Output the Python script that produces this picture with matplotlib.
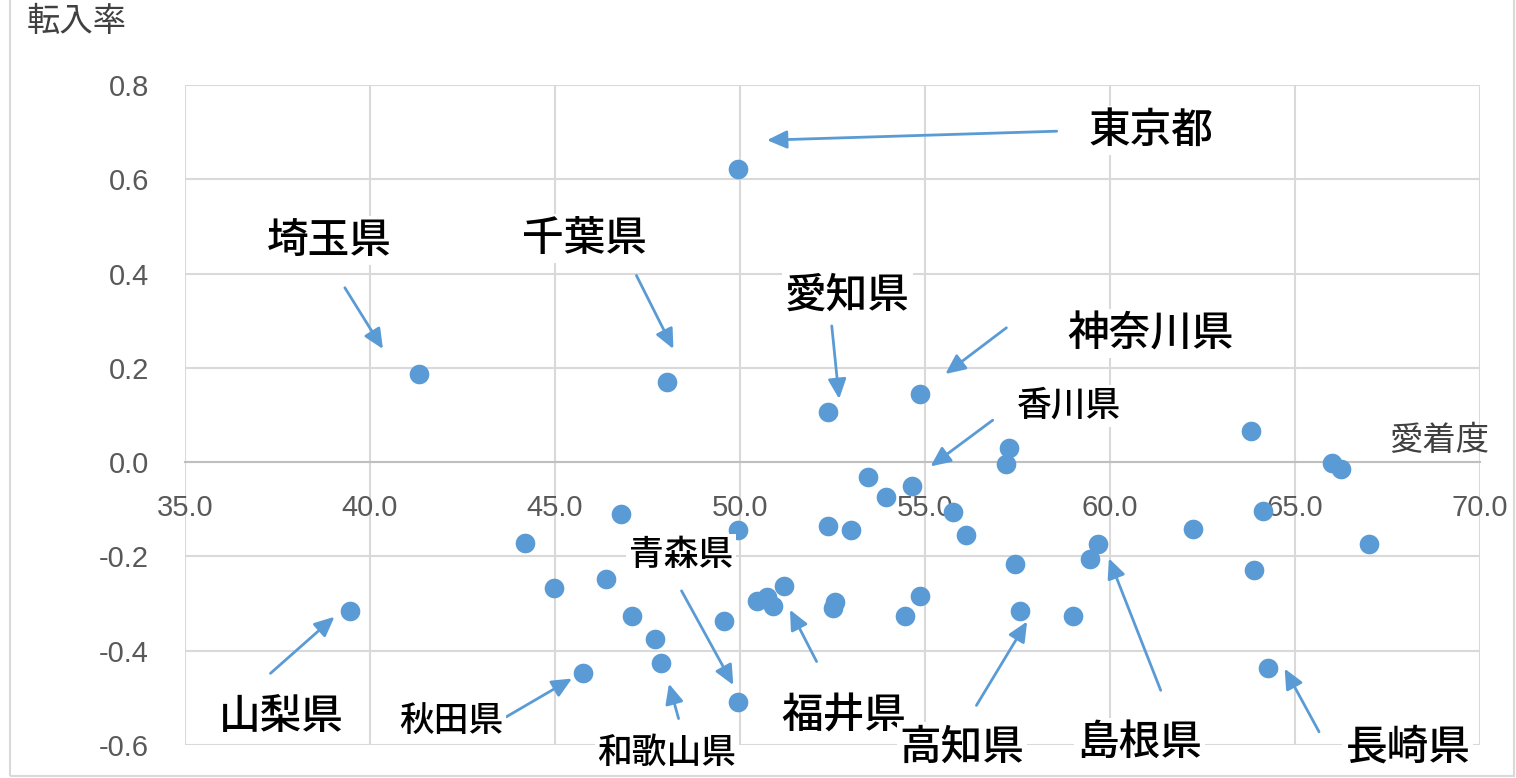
import matplotlib
matplotlib.use("Agg")
import matplotlib.pyplot as plt
from matplotlib.patches import Rectangle

plt.rcParams['font.family'] = ['Noto Sans CJK JP', 'DejaVu Sans']

# 愛着度 (x) and 転入率 (y) for each prefecture
attach = [49.94, 41.33, 48.04, 52.39, 54.86, 63.81, 57.28, 57.19, 65.99, 66.24,
          53.47, 53.94, 54.64, 55.75, 56.10, 52.39, 52.99, 59.68, 59.45, 57.43,
          52.57, 52.51, 54.86, 54.46, 57.57, 58.99, 64.13, 62.25, 67.01, 63.89,
          64.28, 44.19, 46.78, 49.95, 44.97, 46.38, 47.09, 47.70, 47.86, 45.77,
          49.58, 49.95, 50.46, 50.72, 51.19, 50.90, 39.46]
inflow = [0.621, 0.187, 0.170, 0.107, 0.145, 0.066, 0.029, -0.004, -0.001, -0.014,
          -0.032, -0.074, -0.050, -0.106, -0.154, -0.136, -0.143, -0.173, -0.205, -0.216,
          -0.296, -0.310, -0.283, -0.326, -0.315, -0.326, -0.104, -0.142, -0.174, -0.228,
          -0.436, -0.172, -0.111, -0.143, -0.266, -0.247, -0.327, -0.375, -0.426, -0.448,
          -0.338, -0.509, -0.294, -0.285, -0.262, -0.305, -0.316]

x_ticks = [35.0, 40.0, 45.0, 50.0, 55.0, 60.0, 65.0, 70.0]
y_ticks = [-0.6, -0.4, -0.2, 0.0, 0.2, 0.4, 0.6, 0.8]

# annotation labels: name, text position, arrow start, arrow end
big_labels = ['東京都', '埼玉県', '千葉県', '愛知県', '神奈川県', '福井県', '山梨県', '高知県', '島根県', '長崎県']
big_text_pos = [(61.1, 0.703), (38.9, 0.47), (45.8, 0.475), (52.9, 0.355), (61.1, 0.272),
                (52.8, -0.536), (37.6, -0.54), (56.0, -0.604), (60.8, -0.594), (68.05, -0.604)]
big_arrow_from = [(58.56, 0.702), (39.32, 0.370), (47.2, 0.396), (52.48, 0.289), (57.2, 0.285),
                  (52.07, -0.423), (37.31, -0.448), (56.39, -0.516), (61.37, -0.484), (65.65, -0.572)]
big_arrow_to = [(50.73, 0.683), (40.35, 0.240), (48.2, 0.240), (52.68, 0.134), (55.55, 0.187),
                (51.35, -0.313), (39.04, -0.328), (57.76, -0.338), (59.97, -0.204), (64.72, -0.438)]

small_labels = ['香川県', '青森県', '秋田県', '和歌山県']
small_text_pos = [(58.9, 0.119), (48.4, -0.196), (42.2, -0.548), (48.03, -0.617)]
small_arrow_from = [(56.83, 0.089), (48.42, -0.273), (43.69, -0.540), (48.34, -0.544)]
small_arrow_to = [(55.15, -0.009), (49.82, -0.473), (45.46, -0.459), (48.08, -0.470)]

blue = '#5B9BD5'
grid_c = '#D9D9D9'
tick_c = '#595959'
num_font = ['Liberation Sans Narrow', 'Liberation Sans', 'DejaVu Sans']

fig = plt.figure(figsize=(15.16, 7.78), dpi=100)
ax = fig.add_axes([185 / 1516, 1 - 745 / 778, (1480 - 185) / 1516, (745 - 85) / 778])

for s in ['top', 'right', 'left']:
    ax.spines[s].set_visible(False)
ax.spines['bottom'].set_position(('data', 0))
ax.spines['bottom'].set_color('#BFBFBF')
ax.spines['bottom'].set_linewidth(1.5)
ax.spines['bottom'].set_zorder(1)

ax.set_xlim(35, 70)
ax.set_ylim(-0.6, 0.8)
ax.set_xticks(x_ticks)
ax.set_yticks(y_ticks)
ax.set_xticklabels([f'{v:.1f}' for v in x_ticks], fontsize=21, color=tick_c, family=num_font)
ax.set_yticklabels([f'{v:.1f}' for v in y_ticks], fontsize=21, color=tick_c, family=num_font)
ax.tick_params(axis='x', length=0, pad=23)
ax.tick_params(axis='y', length=0, pad=26)

ax.grid(True, color=grid_c, linewidth=1.5, zorder=0)
ax.set_axisbelow(True)

ax.scatter(attach, inflow, s=200, color=blue, zorder=3, linewidths=0)

arrow_kw = dict(arrowstyle='-|>,head_length=1.2,head_width=0.55', color=blue, lw=2.0,
                shrinkA=0, shrinkB=0)

for name, tp, a0, a1 in zip(big_labels, big_text_pos, big_arrow_from, big_arrow_to):
    ax.annotate('', xy=a1, xytext=a0, arrowprops=arrow_kw, zorder=4, annotation_clip=False)
    ax.text(tp[0], tp[1], name, fontsize=30, fontweight='medium', color='black',
            ha='center', va='center', zorder=5, clip_on=False,
            bbox=dict(facecolor='white', edgecolor='none', pad=2))

for name, tp, a0, a1 in zip(small_labels, small_text_pos, small_arrow_from, small_arrow_to):
    ax.annotate('', xy=a1, xytext=a0, arrowprops=arrow_kw, zorder=4, annotation_clip=False)
    ax.text(tp[0], tp[1], name, fontsize=25, fontweight='medium', color='black',
            ha='center', va='center', zorder=5, clip_on=False,
            bbox=dict(facecolor='white', edgecolor='none', pad=2))

ax.text(68.9, 0.045, '愛着度', fontsize=24, color='#404040', ha='center', va='center', zorder=5)
fig.text(27 / 1516, 1 - 22 / 778, '転入率', fontsize=24, color='#404040', ha='left', va='center')

# chart area border
fig.patches.append(Rectangle((10 / 1516, 2 / 778), 1 - 12 / 1516, 1.2, transform=fig.transFigure,
                             fill=False, edgecolor='#D9D9D9', linewidth=1.5))

fig.savefig('out.png', dpi=100)
